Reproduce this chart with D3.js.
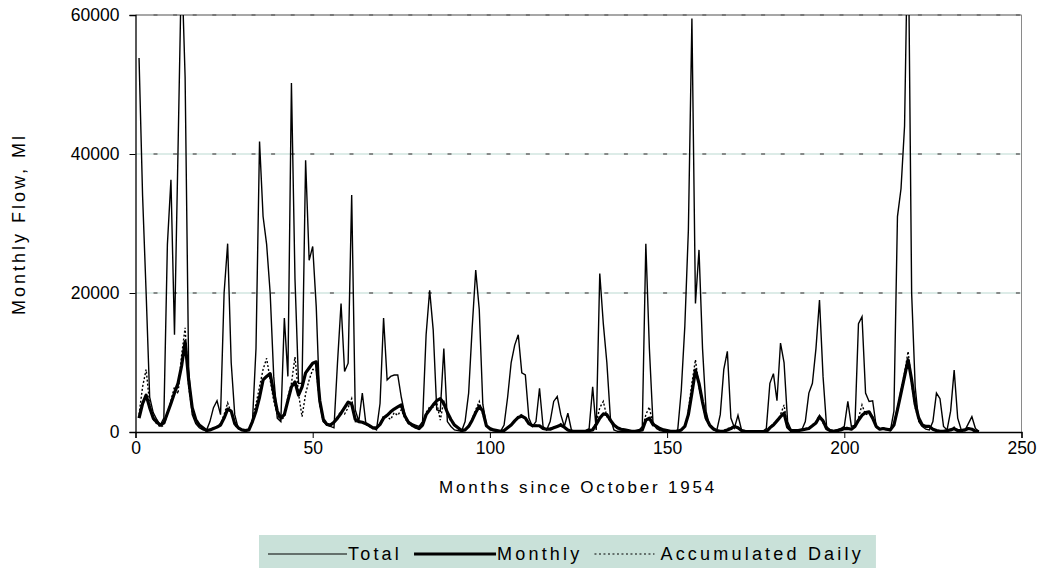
<!DOCTYPE html>
<html>
<head>
<meta charset="utf-8">
<script src="https://cdn.jsdelivr.net/npm/d3@7"></script>
<style>
body{margin:0;background:#fff;}
text{font-family:"Liberation Sans",Arial,sans-serif;fill:#000;}
</style>
</head>
<body>
<script>
// monthly values, month 1 .. 238
var totalFlow = [53800,34000,20000,5000,2800,1800,1000,2000,27000,36300,
14000,40600,68000,51000,9000,2500,1200,600,300,200,
1500,3500,4500,2500,20000,27100,10000,2500,500,300,
200,300,1500,12000,41800,31000,27000,20000,8000,2000,
1500,16400,8000,50200,22000,7000,7000,39100,24700,26700,
18000,4000,1500,1000,800,600,10000,18500,8700,9900,
34100,3200,1500,5600,1200,800,600,300,4100,16400,
7500,8000,8200,8200,5000,2500,1500,1200,1000,800,
1500,14000,20400,14700,3200,3000,12000,1500,800,300,
200,100,1500,5600,15000,23300,17600,4000,1000,300,
200,100,100,1000,5000,10000,12500,14000,8500,8200,
2000,800,1500,6300,800,300,1500,4400,5100,2500,
800,2700,300,100,100,100,200,500,6500,300,
22800,15600,10000,2000,300,100,100,100,100,100,
100,200,800,27100,12000,1500,500,200,100,100,
100,100,300,6000,15200,29000,59500,18500,26200,12000,
3000,800,300,200,2500,9000,11600,2000,600,2400,
300,100,50,50,50,50,100,500,7000,8400,
4500,12800,10000,1500,300,200,200,300,1500,5600,
7000,12000,19000,8000,800,300,200,300,500,800,
4400,800,1000,15600,16600,5600,4400,4500,800,400,
600,300,200,3000,31000,35000,44000,75000,20000,6500,
1500,800,400,300,1500,5600,4800,800,300,3000,
8900,2000,300,200,1200,2200,500,100];

var monthlyFlow = [2000,4100,5300,3500,2000,1400,1000,1300,2700,4100,
5600,7000,9500,13000,7500,3500,1800,1000,600,200,
300,500,700,1000,2000,3300,3000,1200,600,300,
200,300,1500,3000,5000,7500,8000,8400,5600,3000,
2000,2500,4500,6500,7200,5300,6500,8500,9200,9900,
10100,4500,1800,1100,1000,1400,2000,2700,3500,4300,
4000,1800,1500,1400,1200,900,600,600,1100,2000,
2400,2900,3300,3600,3900,2300,1400,1000,700,500,
1000,2500,3200,3900,4500,4800,4100,2800,1800,1000,
600,200,300,800,1700,2800,3700,3000,900,500,
300,200,100,200,600,1000,1600,2100,2300,2000,
1200,900,900,900,500,400,400,600,800,1000,
700,300,100,100,100,100,100,200,300,1100,
2000,2600,2500,1700,1000,600,400,300,200,100,
100,200,300,1700,2000,1100,800,500,300,200,
100,100,100,300,800,2500,5600,8900,7000,4300,
2000,1000,500,200,100,100,300,500,800,600,
200,100,50,50,50,50,50,50,600,1000,
1600,2200,2700,700,200,200,200,300,400,500,
900,1300,2200,1600,500,200,100,200,300,500,
500,400,800,1700,2400,2800,2900,2000,800,400,
500,400,300,1000,3200,5600,8000,10400,7500,4000,
2000,1000,800,800,400,200,100,100,200,300,
500,200,200,300,500,400,100,50];

var dailyFlow = [2500,6500,9000,4000,1800,1200,700,1000,2500,4500,
6500,5500,11000,15000,6500,3000,1500,800,400,200,
300,600,800,1200,2500,4200,2800,1000,500,300,
200,300,1800,4000,6500,9000,10600,7500,4500,2500,
1600,2200,5000,7000,10800,5500,2200,5500,7500,9000,
9000,4000,1500,1000,900,1300,2200,3000,2600,3500,
4800,1500,1400,1500,1100,800,500,500,1200,2300,
2200,1800,2800,2400,3200,2000,1200,900,600,400,
900,2800,3600,3600,4200,1700,4500,2500,1600,900,
500,200,300,900,1900,3200,4400,2500,800,400,
300,200,100,200,700,1100,1500,2300,2500,1800,
1100,900,1000,800,500,400,500,700,700,1200,
600,300,100,100,100,100,100,200,500,1300,
3500,4400,2200,1500,900,500,400,300,200,100,
100,200,300,2500,3600,900,700,500,300,200,
100,100,100,300,900,3000,7000,10400,6500,4000,
1800,900,500,200,100,200,500,600,900,500,
200,100,50,50,50,50,50,50,700,1200,
1500,2500,3900,600,200,200,200,300,500,600,
1000,1500,2400,1300,400,200,100,200,300,600,
700,400,900,2000,3900,2500,2700,2200,700,400,
400,300,300,1200,3500,6000,8500,11600,7000,3500,
1800,1000,700,700,400,300,100,100,200,400,
700,300,200,300,600,400,100];

var xTicks = [0,50,100,150,200,250];
var yTicks = [0,20000,40000,60000];
var legendNames = ["Total","Monthly","Accumulated Daily"];

const svg_width = 1058, svg_height = 569;
const plotLeft = 135.5, plotRight = 1021.5, plotTop = 15, plotBottom = 432;

var svg = d3.select("body").append("svg")
  .attr("width",svg_width)
  .attr("height",svg_height);

var xScale = d3.scaleLinear().domain([0,250]).range([plotLeft,plotRight]);
var yScale = d3.scaleLinear().domain([0,60000]).range([plotBottom,plotTop]);

// gridlines
var grid = svg.append("g");
yTicks.filter(function(d){return d>0;}).forEach(function(v){
  grid.append("line")
    .attr("x1",plotLeft).attr("x2",plotRight)
    .attr("y1",yScale(v)).attr("y2",yScale(v))
    .attr("stroke",v==60000?"#8a8a8a":"#d2e6e1").attr("stroke-width",1.5);
  grid.append("line")
    .attr("x1",plotLeft+18).attr("x2",plotRight)
    .attr("y1",yScale(v)).attr("y2",yScale(v))
    .attr("stroke","#6a6a6a").attr("stroke-width",1.5)
    .attr("stroke-dasharray","4,15.6");
});
// right border
svg.append("line")
  .attr("x1",plotRight).attr("x2",plotRight)
  .attr("y1",plotTop).attr("y2",plotBottom)
  .attr("stroke","#8a8a8a").attr("stroke-width",1);

svg.append("clipPath").attr("id","plotclip")
  .append("rect").attr("x",plotLeft).attr("y",plotTop)
  .attr("width",plotRight-plotLeft).attr("height",plotBottom-plotTop);

var lineFunc = d3.line()
  .x(function(d,i){return xScale(i+1);})
  .y(function(d){return yScale(d);});

var lines = svg.append("g").attr("clip-path","url(#plotclip)");
lines.append("path").attr("d",lineFunc(totalFlow))
  .attr("fill","none").attr("stroke","#000").attr("stroke-width",1.4)
  .attr("stroke-linejoin","miter");
lines.append("path").attr("d",lineFunc(dailyFlow))
  .attr("fill","none").attr("stroke","#000").attr("stroke-width",1.4)
  .attr("stroke-dasharray","2,2");
lines.append("path").attr("d",lineFunc(monthlyFlow))
  .attr("fill","none").attr("stroke","#000").attr("stroke-width",3.2)
  .attr("stroke-linejoin","round");

// axes
var xAxis = svg.append("g").attr("transform","translate(0,"+plotBottom+")")
  .call(d3.axisBottom(xScale).tickValues(xTicks).tickSize(6).tickPadding(4));
var yAxis = svg.append("g").attr("transform","translate("+plotLeft+",0)")
  .call(d3.axisLeft(yScale).tickValues(yTicks).tickSize(6).tickPadding(10).tickFormat(d3.format("d")));
[xAxis,yAxis].forEach(function(a){
  a.select(".domain").attr("stroke","#000").attr("stroke-width",1.3);
  a.selectAll(".tick line").attr("stroke","#000").attr("stroke-width",1);
  a.selectAll(".tick text").attr("font-size",17.5).attr("fill","#000")
    .style("font-family","'Liberation Sans',Arial,sans-serif");
});

svg.append("text")
  .attr("x",578).attr("y",493)
  .attr("text-anchor","middle").attr("font-size",17)
  .style("letter-spacing","2.8px")
  .text("Months since October 1954");

svg.append("text")
  .attr("transform","translate(25,224) rotate(-90)")
  .attr("text-anchor","middle").attr("font-size",18)
  .style("letter-spacing","3px")
  .text("Monthly Flow, Ml");

// legend
var legend = svg.append("g");
var legendBox = legend.append("rect").attr("x",259).attr("y",535).attr("height",33)
  .attr("fill","#c9e1d9");
var legendItems = [
  {len:79,w:1.2,dash:null},
  {len:82,w:3.2,dash:null},
  {len:60,w:1.2,dash:"2,2.5"}
];
var lx = 268;
legendItems.forEach(function(d,i){
  legend.append("line").attr("x1",lx).attr("x2",lx+d.len).attr("y1",554).attr("y2",554)
    .attr("stroke","#000").attr("stroke-width",d.w).attr("stroke-dasharray",d.dash);
  lx += d.len + (i==2?6:1);
  var t = legend.append("text").attr("x",lx).attr("y",560).attr("font-size",18)
    .style("letter-spacing","3.2px").text(legendNames[i]);
  lx += t.node().getComputedTextLength() + 12;
});
legendBox.attr("width",lx-259);
</script>
</body>
</html>
